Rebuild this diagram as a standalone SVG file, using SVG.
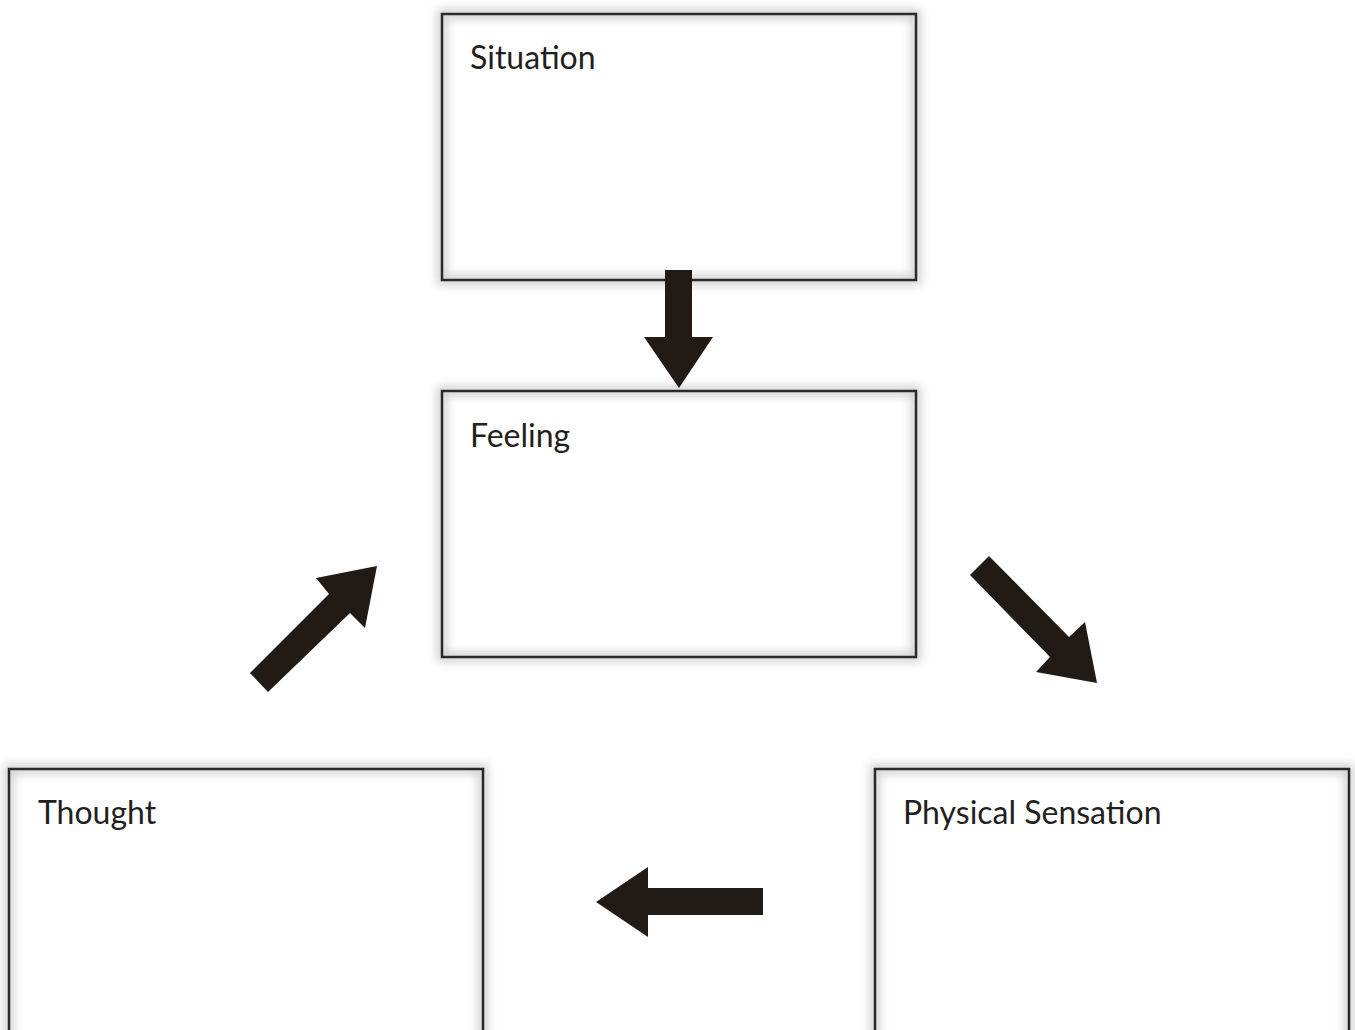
<svg xmlns="http://www.w3.org/2000/svg" width="1355" height="1030" viewBox="0 0 1355 1030">
<defs>
<filter id="soft" x="-10%" y="-10%" width="120%" height="120%"><feGaussianBlur stdDeviation="5"/></filter>
</defs>
<style>
.halo{fill:none;stroke:#000;stroke-opacity:0.18;stroke-width:10;filter:url(#soft)}
.box{fill:none;stroke:#2a2a2a;stroke-width:2.5}
.lbl{font-family:Lato,"Liberation Sans",sans-serif;font-size:32px;fill:#231f20}
.arr{fill:#211a15}
</style>
<rect width="1355" height="1030" fill="#fff"/>
<g id="situation">
<rect class="halo" x="442" y="14" width="474" height="266"/>
<rect class="box" x="442" y="14" width="474" height="266"/>
<text class="lbl" x="470" y="69">Situation</text>
</g>
<g id="feeling">
<rect class="halo" x="442" y="391" width="474" height="266"/>
<rect class="box" x="442" y="391" width="474" height="266"/>
<text class="lbl" x="470" y="447">Feeling</text>
</g>
<g id="thought">
<rect class="halo" x="9" y="769" width="474" height="280"/>
<rect class="box" x="9" y="769" width="474" height="280"/>
<text class="lbl" x="38" y="824">Thought</text>
</g>
<g id="physical">
<rect class="halo" x="875" y="769" width="474" height="280"/>
<rect class="box" x="875" y="769" width="474" height="280"/>
<text class="lbl" x="903" y="824">Physical Sensation</text>
</g>
<g id="connectors">
<polygon class="arr" points="665,270 692,270 692,337 713,337 679,388 644,337 665,337"/>
<polygon class="arr" points="763,888 763,915 648,915 648,937 596,902 648,867 648,888"/>
<polygon class="arr" points="250,673 329,594 316,578 377,566 365,628 350,613 268,692"/>
<polygon class="arr" points="989,556 1069,637 1085,622 1097,683 1036,672 1050,657 970,575"/>
</g>
</svg>
